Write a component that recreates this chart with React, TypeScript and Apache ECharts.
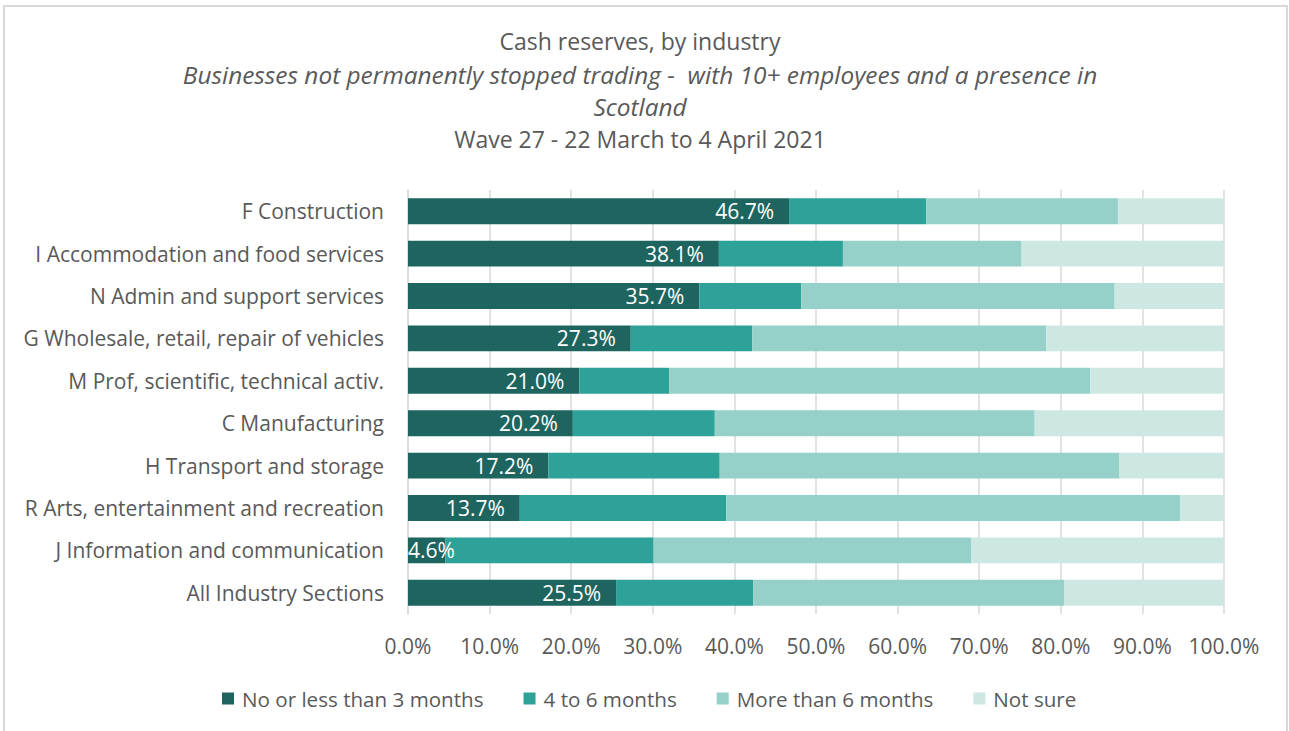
import React, { useEffect, useRef } from "react";
import * as echarts from "echarts";

const categories = [
  "F Construction",
  "I Accommodation and food services",
  "N Admin and support services",
  "G Wholesale, retail, repair of vehicles",
  "M Prof, scientific, technical activ.",
  "C Manufacturing",
  "H Transport and storage",
  "R Arts, entertainment and recreation",
  "J Information and communication",
  "All Industry Sections",
];

const seriesNames = ["No or less than 3 months", "4 to 6 months", "More than 6 months", "Not sure"];

const lessThan3 = [46.7, 38.1, 35.7, 27.3, 21.0, 20.2, 17.2, 13.7, 4.6, 25.5];
const fourToSix = [16.8, 15.2, 12.5, 14.9, 11.0, 17.4, 21.0, 25.3, 25.5, 16.8];
const moreThan6 = [23.5, 21.9, 38.4, 36.0, 51.6, 39.2, 49.0, 55.6, 38.9, 38.1];
const notSure = [13.0, 24.8, 13.4, 21.8, 16.4, 23.2, 12.8, 5.4, 31.0, 19.6];

const titleLines = [
  "Cash reserves, by industry",
  "Businesses not permanently stopped trading -  with 10+ employees and a presence in",
  "Scotland",
  "Wave 27 - 22 March to 4 April 2021",
];

const colors = ["#1e6560", "#2ea298", "#96d1c9", "#cde8e3"];

const FONT = "'Open Sans', sans-serif";
const TEXT = "#595959";

export default function App() {
  const ref = useRef<HTMLDivElement>(null);
  useEffect(() => {
    if (!ref.current) return;
    const chart = echarts.init(ref.current, null, { renderer: "svg" });
    const data = [lessThan3, fourToSix, moreThan6, notSure];
    const titleY = [41, 74, 106, 139];
    chart.setOption({
      animation: false,
      textStyle: { fontFamily: FONT },
      color: colors,
      graphic: titleLines.map((t, i) => {
        const italic = i === 1 || i === 2;
        return {
          type: "text",
          x: 640,
          y: titleY[i],
          style: {
            text: t,
            fontSize: italic ? 24.4 : 23,
            fontStyle: italic ? "italic" : "normal",
            fill: TEXT,
            fontFamily: FONT,
            align: "center",
            verticalAlign: "middle",
          },
        };
      }),
      grid: { left: 408, right: 65, top: 190, bottom: 117, containLabel: false },
      legend: {
        top: 683,
        left: 217,
        itemWidth: 12,
        itemHeight: 12,
        itemGap: 40,
        icon: "rect",
        textStyle: { fontSize: 20.6, color: TEXT, fontFamily: FONT, padding: [0, 0, 0, 3] },
        data: seriesNames,
      },
      xAxis: {
        type: "value",
        min: 0,
        max: 100,
        interval: 10,
        axisLabel: {
          formatter: (v: number) => v.toFixed(1) + "%",
          fontSize: 21,
          color: TEXT,
          margin: 21,
        },
        splitLine: { show: true, lineStyle: { color: "#d9d9d9", width: 1.5 } },
        axisLine: { show: false },
        axisTick: { show: false },
      },
      yAxis: {
        type: "category",
        inverse: true,
        data: categories,
        axisLabel: { fontSize: 21, color: TEXT, margin: 24 },
        axisLine: { show: true, lineStyle: { color: "#d9d9d9", width: 1.5 } },
        axisTick: { show: false },
      },
      series: seriesNames.map((name, i) => ({
        name,
        type: "bar",
        stack: "total",
        barCategoryGap: "39%",
        data: data[i].map((v) => {
          if (i === 0 && v < 6) {
            return { value: v, label: { position: "insideLeft", distance: 0 } };
          }
          return v;
        }),
        itemStyle: { color: colors[i] },
        label:
          i === 0
            ? {
                show: true,
                position: "insideRight",
                distance: 15,
                color: "#ffffff",
                fontSize: 21,
                fontFamily: FONT,
                formatter: (p: any) => Number(p.value).toFixed(1) + "%",
              }
            : { show: false },
      })),
    });
    return () => chart.dispose();
  }, []);
  return (
    <div style={{ position: "absolute", left: 0, top: 0, width: 1289, height: 731, overflow: "hidden", background: "#fff" }}>
      <div
        style={{
          position: "absolute",
          left: 3,
          top: 5,
          width: 1285,
          height: 760,
          border: "2px solid #d9d9d9",
          boxSizing: "border-box",
        }}
      />
      <div ref={ref} style={{ position: "absolute", left: 0, top: 0, width: 1289, height: 731 }} />
    </div>
  );
}
